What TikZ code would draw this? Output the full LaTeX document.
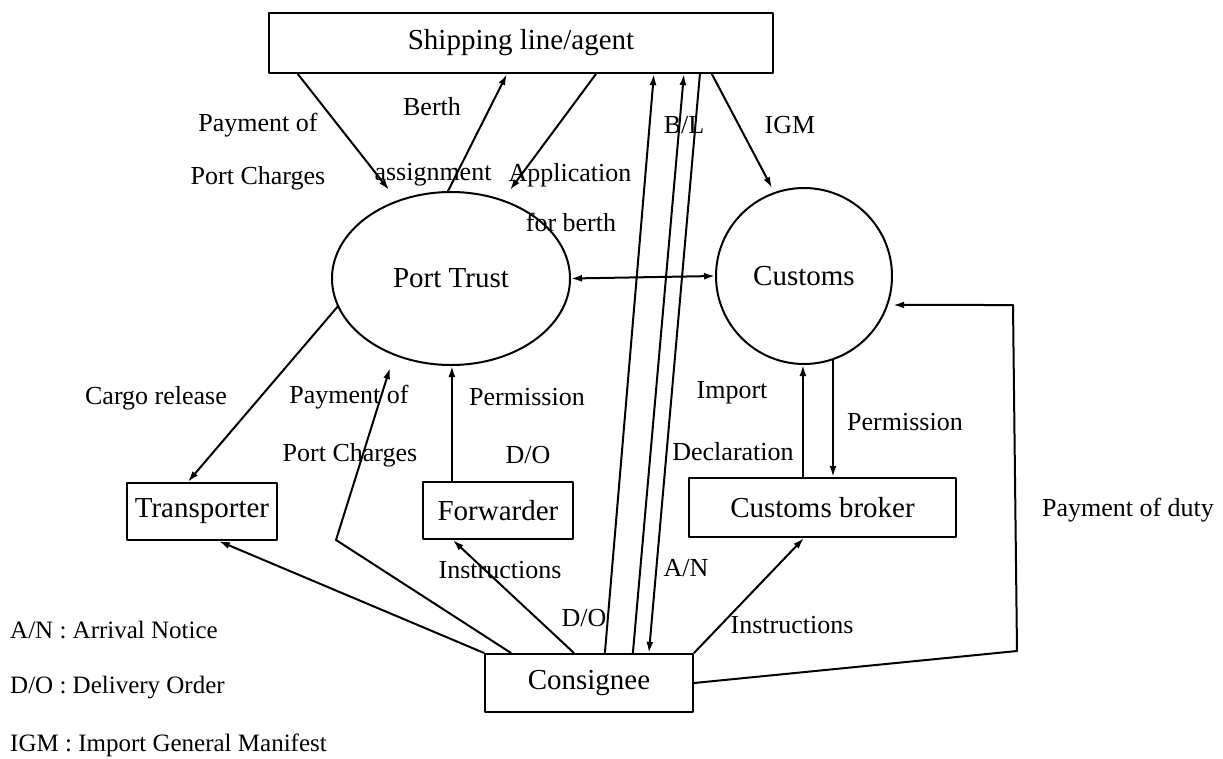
\documentclass[tikz,border=0pt]{standalone}
\usepackage{fontspec}
\setmainfont{Liberation Serif}
\usetikzlibrary{shapes.geometric,arrows.meta}

\begin{document}
\begin{tikzpicture}[x=1pt, y=-1pt, line cap=round, line join=round,
    box/.style={draw, line width=2.2pt, inner sep=0pt, font=\fontsize{29}{33}\selectfont},
    bubble/.style={draw, ellipse, line width=2pt, inner sep=0pt, font=\fontsize{29}{33}\selectfont},
    lbl/.style={inner sep=0pt, font=\fontsize{26}{30}\selectfont},
    key/.style={anchor=west, inner sep=0pt, font=\fontsize{25}{29}\selectfont},
    flow/.style={line width=2pt, -{Latex[length=11pt,width=7pt]}},
    both/.style={line width=2pt, {Latex[length=11pt,width=7pt]}-{Latex[length=11pt,width=7pt]}}]

    \useasboundingbox (0,0) rectangle (1223,758);

    % parties
    \node[box, minimum width=504pt, minimum height=60pt] (ship) at (521,43) {Shipping line/agent};
    \node[bubble, minimum width=238pt, minimum height=173pt] (port) at (451,278.5) {Port Trust};
    \node[bubble, minimum width=176pt, minimum height=176pt] (cust) at (804,276) {Customs};
    \node[box, minimum width=150pt, minimum height=57pt] (trans) at (202,511.5) {Transporter};
    \node[box, minimum width=150pt, minimum height=57pt] (fwd) at (498,510.5) {Forwarder};
    \node[box, minimum width=267pt, minimum height=59pt] (broker) at (822.5,507.5) {Customs broker};
    \node[box, minimum width=208pt, minimum height=58pt] (cons) at (589,683) {Consignee};

    % free ends and bends
    \coordinate (payTip) at (389,190);
    \coordinate (appTip) at (510,190);
    \coordinate (igmTip) at (772,188);
    \coordinate (payBend) at (336,540);
    \coordinate (payLow) at (390,368);
    \coordinate (dutyLow) at (1017,651);
    \coordinate (dutyUp) at (1013,305);
    \coordinate (fwdTop) at ([xshift=30pt]fwd.north west);
    \coordinate (brkTop) at ([xshift=115pt]broker.north west);

    % shipping line and port trust
    \draw[flow] ([xshift=30pt]ship.south west) -- (payTip);
    \draw[flow] ([xshift=-3pt]port.north) -- ([xshift=239pt]ship.south west);
    \draw[flow] ([xshift=328pt]ship.south west) -- (appTip);
    \draw[flow] ([xshift=444pt]ship.south west) -- (igmTip);
    \draw[both] (port.east) -- (cust.west);

    % consignee and shipping line
    \draw[flow] ([xshift=121pt]cons.north west) -- ([xshift=386pt]ship.south west);
    \draw[flow] ([xshift=149pt]cons.north west) -- ([xshift=416pt]ship.south west);
    \draw[flow] ([xshift=432pt]ship.south west) -- ([xshift=165pt]cons.north west);

    % lower flows
    \draw[flow] (port.194) -- ([xshift=62pt]trans.north west);
    \draw[flow] (cons.north west) -- ([xshift=93pt]trans.south west);
    \draw[flow] ([xshift=27pt]cons.north west) -- (payBend) -- (payLow);
    \draw[flow] (fwdTop) -- (fwdTop |- port.south);
    \draw[flow] ([xshift=90pt]cons.north west) -- ([xshift=31pt]fwd.south west);
    \draw[flow] (brkTop) -- (brkTop |- cust.south);
    \draw[flow] (cust.-71) -- (cust.-71 |- broker.north);
    \draw[flow] (cons.north east) -- ([xshift=116pt]broker.south west);
    \draw[flow] (cons.east) -- (dutyLow) -- (dutyUp) -- ([xshift=5pt]cust.-19);

    % flow labels
    \node[lbl] (payA) at (258,125) {Payment of};
    \node[lbl] (payB) at (258,178) {Port Charges};
    \node[lbl] (berthA) at (432,107) {Berth};
    \node[lbl] (berthB) at (433,175) {assignment};
    \node[lbl] (appA) at (570,175) {Application};
    \node[lbl] (appB) at (571,222) {for berth};
    \node[lbl] (bl) at (684,125) {B/L};
    \node[lbl] (igm) at (790,125) {IGM};
    \node[lbl] (cargo) at (156,398) {Cargo release};
    \node[lbl] (payC) at (349,397) {Payment of};
    \node[lbl] (payD) at (350,455) {Port Charges};
    \node[lbl] (permA) at (527,397) {Permission};
    \node[lbl] (doA) at (528,455) {D/O};
    \node[lbl] (impA) at (732,393) {Import};
    \node[lbl] (impB) at (733,452) {Declaration};
    \node[lbl] (permB) at (905,422) {Permission};
    \node[lbl] (instrA) at (500,570) {Instructions};
    \node[lbl] (doB) at (584,618) {D/O};
    \node[lbl] (an) at (686,568) {A/N};
    \node[lbl] (instrB) at (792,625) {Instructions};
    \node[lbl] (duty) at (1128,510) {Payment of duty};

    % legend
    \node[key] (keyAN) at (10,630) {A/N : Arrival Notice};
    \node[key] (keyDO) at (10,688) {D/O : Delivery Order};
    \node[key] (keyIGM) at (10,745) {IGM : Import General Manifest};

\end{tikzpicture}
\end{document}
